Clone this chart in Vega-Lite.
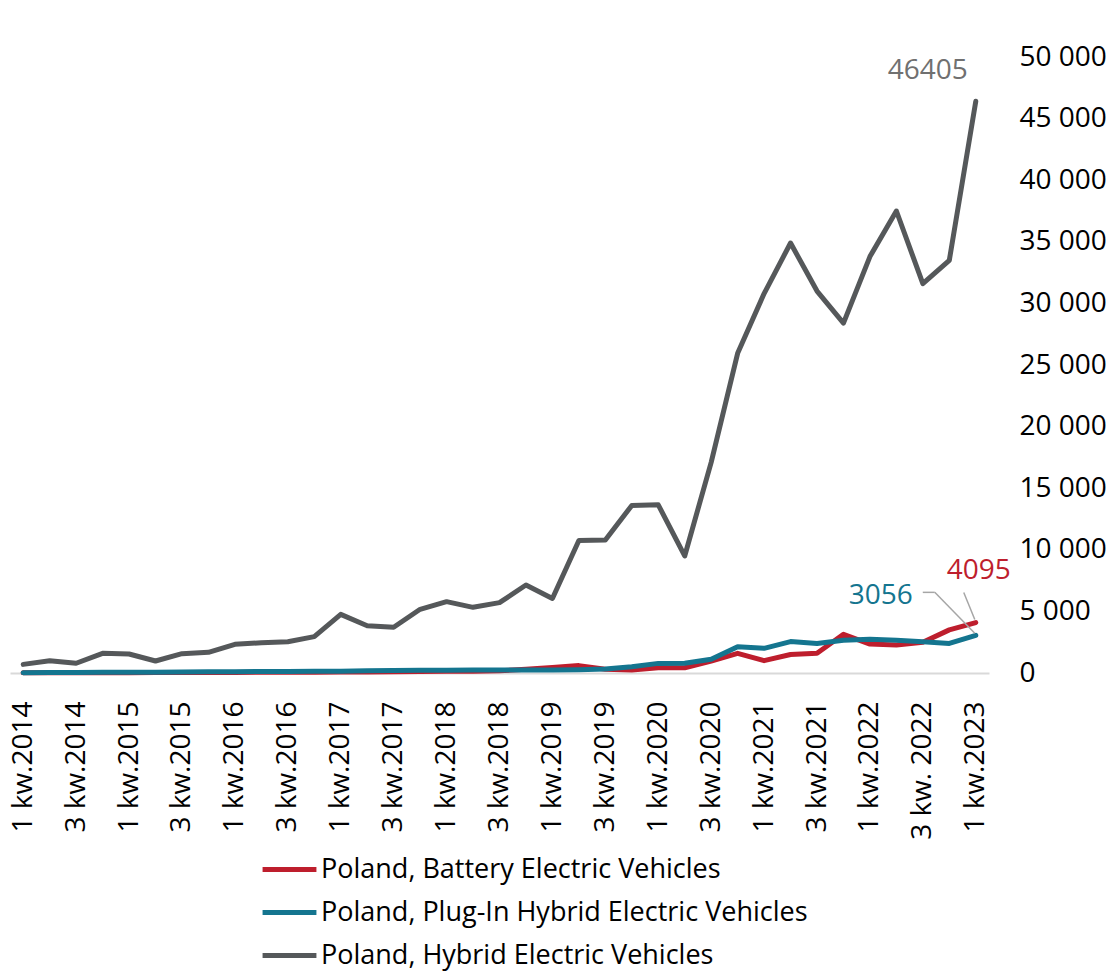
{
  "$schema": "https://vega.github.io/schema/vega-lite/v6.json",
  "autosize": {"type": "none"},
  "padding": {"left": 10, "top": 57, "right": 126, "bottom": 298},
  "width": 979,
  "height": 616,
  "background": "white",
  "config": {
    "view": {"stroke": null},
    "font": "Open Sans",
    "text": {"font": "Open Sans"}
  },
  "data": {
    "values": [
      {"quarter": "1 kw.2014", "Poland, Battery Electric Vehicles": 20, "Poland, Plug-In Hybrid Electric Vehicles": 30, "Poland, Hybrid Electric Vehicles": 700},
      {"quarter": "2 kw.2014", "Poland, Battery Electric Vehicles": 20, "Poland, Plug-In Hybrid Electric Vehicles": 40, "Poland, Hybrid Electric Vehicles": 1000},
      {"quarter": "3 kw.2014", "Poland, Battery Electric Vehicles": 30, "Poland, Plug-In Hybrid Electric Vehicles": 50, "Poland, Hybrid Electric Vehicles": 790},
      {"quarter": "4 kw.2014", "Poland, Battery Electric Vehicles": 30, "Poland, Plug-In Hybrid Electric Vehicles": 60, "Poland, Hybrid Electric Vehicles": 1600},
      {"quarter": "1 kw.2015", "Poland, Battery Electric Vehicles": 30, "Poland, Plug-In Hybrid Electric Vehicles": 60, "Poland, Hybrid Electric Vehicles": 1540},
      {"quarter": "2 kw.2015", "Poland, Battery Electric Vehicles": 40, "Poland, Plug-In Hybrid Electric Vehicles": 70, "Poland, Hybrid Electric Vehicles": 975},
      {"quarter": "3 kw.2015", "Poland, Battery Electric Vehicles": 40, "Poland, Plug-In Hybrid Electric Vehicles": 80, "Poland, Hybrid Electric Vehicles": 1570},
      {"quarter": "4 kw.2015", "Poland, Battery Electric Vehicles": 50, "Poland, Plug-In Hybrid Electric Vehicles": 100, "Poland, Hybrid Electric Vehicles": 1680},
      {"quarter": "1 kw.2016", "Poland, Battery Electric Vehicles": 50, "Poland, Plug-In Hybrid Electric Vehicles": 110, "Poland, Hybrid Electric Vehicles": 2330},
      {"quarter": "2 kw.2016", "Poland, Battery Electric Vehicles": 60, "Poland, Plug-In Hybrid Electric Vehicles": 120, "Poland, Hybrid Electric Vehicles": 2460},
      {"quarter": "3 kw.2016", "Poland, Battery Electric Vehicles": 60, "Poland, Plug-In Hybrid Electric Vehicles": 130, "Poland, Hybrid Electric Vehicles": 2540},
      {"quarter": "4 kw.2016", "Poland, Battery Electric Vehicles": 70, "Poland, Plug-In Hybrid Electric Vehicles": 140, "Poland, Hybrid Electric Vehicles": 2950},
      {"quarter": "1 kw.2017", "Poland, Battery Electric Vehicles": 80, "Poland, Plug-In Hybrid Electric Vehicles": 150, "Poland, Hybrid Electric Vehicles": 4760},
      {"quarter": "2 kw.2017", "Poland, Battery Electric Vehicles": 90, "Poland, Plug-In Hybrid Electric Vehicles": 180, "Poland, Hybrid Electric Vehicles": 3840},
      {"quarter": "3 kw.2017", "Poland, Battery Electric Vehicles": 100, "Poland, Plug-In Hybrid Electric Vehicles": 200, "Poland, Hybrid Electric Vehicles": 3710},
      {"quarter": "4 kw.2017", "Poland, Battery Electric Vehicles": 120, "Poland, Plug-In Hybrid Electric Vehicles": 220, "Poland, Hybrid Electric Vehicles": 5170},
      {"quarter": "1 kw.2018", "Poland, Battery Electric Vehicles": 140, "Poland, Plug-In Hybrid Electric Vehicles": 230, "Poland, Hybrid Electric Vehicles": 5790},
      {"quarter": "2 kw.2018", "Poland, Battery Electric Vehicles": 150, "Poland, Plug-In Hybrid Electric Vehicles": 240, "Poland, Hybrid Electric Vehicles": 5330},
      {"quarter": "3 kw.2018", "Poland, Battery Electric Vehicles": 180, "Poland, Plug-In Hybrid Electric Vehicles": 250, "Poland, Hybrid Electric Vehicles": 5710},
      {"quarter": "4 kw.2018", "Poland, Battery Electric Vehicles": 300, "Poland, Plug-In Hybrid Electric Vehicles": 250, "Poland, Hybrid Electric Vehicles": 7140},
      {"quarter": "1 kw.2019", "Poland, Battery Electric Vehicles": 450, "Poland, Plug-In Hybrid Electric Vehicles": 240, "Poland, Hybrid Electric Vehicles": 6050},
      {"quarter": "2 kw.2019", "Poland, Battery Electric Vehicles": 600, "Poland, Plug-In Hybrid Electric Vehicles": 260, "Poland, Hybrid Electric Vehicles": 10750},
      {"quarter": "3 kw.2019", "Poland, Battery Electric Vehicles": 300, "Poland, Plug-In Hybrid Electric Vehicles": 320, "Poland, Hybrid Electric Vehicles": 10800},
      {"quarter": "4 kw.2019", "Poland, Battery Electric Vehicles": 250, "Poland, Plug-In Hybrid Electric Vehicles": 510, "Poland, Hybrid Electric Vehicles": 13600},
      {"quarter": "1 kw.2020", "Poland, Battery Electric Vehicles": 430, "Poland, Plug-In Hybrid Electric Vehicles": 780, "Poland, Hybrid Electric Vehicles": 13650},
      {"quarter": "2 kw.2020", "Poland, Battery Electric Vehicles": 430, "Poland, Plug-In Hybrid Electric Vehicles": 790, "Poland, Hybrid Electric Vehicles": 9500},
      {"quarter": "3 kw.2020", "Poland, Battery Electric Vehicles": 975, "Poland, Plug-In Hybrid Electric Vehicles": 1110, "Poland, Hybrid Electric Vehicles": 17100},
      {"quarter": "4 kw.2020", "Poland, Battery Electric Vehicles": 1600, "Poland, Plug-In Hybrid Electric Vehicles": 2140, "Poland, Hybrid Electric Vehicles": 25950},
      {"quarter": "1 kw.2021", "Poland, Battery Electric Vehicles": 1000, "Poland, Plug-In Hybrid Electric Vehicles": 2000, "Poland, Hybrid Electric Vehicles": 30800},
      {"quarter": "2 kw.2021", "Poland, Battery Electric Vehicles": 1500, "Poland, Plug-In Hybrid Electric Vehicles": 2550, "Poland, Hybrid Electric Vehicles": 34900},
      {"quarter": "3 kw.2021", "Poland, Battery Electric Vehicles": 1600, "Poland, Plug-In Hybrid Electric Vehicles": 2400, "Poland, Hybrid Electric Vehicles": 31000},
      {"quarter": "4 kw.2021", "Poland, Battery Electric Vehicles": 3140, "Poland, Plug-In Hybrid Electric Vehicles": 2650, "Poland, Hybrid Electric Vehicles": 28400},
      {"quarter": "1 kw.2022", "Poland, Battery Electric Vehicles": 2350, "Poland, Plug-In Hybrid Electric Vehicles": 2730, "Poland, Hybrid Electric Vehicles": 33800},
      {"quarter": "2 kw.2022", "Poland, Battery Electric Vehicles": 2270, "Poland, Plug-In Hybrid Electric Vehicles": 2660, "Poland, Hybrid Electric Vehicles": 37500},
      {"quarter": "3 kw.2022", "Poland, Battery Electric Vehicles": 2500, "Poland, Plug-In Hybrid Electric Vehicles": 2540, "Poland, Hybrid Electric Vehicles": 31600},
      {"quarter": "4 kw.2022", "Poland, Battery Electric Vehicles": 3500, "Poland, Plug-In Hybrid Electric Vehicles": 2400, "Poland, Hybrid Electric Vehicles": 33500},
      {"quarter": "1 kw.2023", "Poland, Battery Electric Vehicles": 4095, "Poland, Plug-In Hybrid Electric Vehicles": 3056, "Poland, Hybrid Electric Vehicles": 46405}
    ]
  },
  "transform": [
    {"fold": ["Poland, Battery Electric Vehicles", "Poland, Plug-In Hybrid Electric Vehicles", "Poland, Hybrid Electric Vehicles"], "as": ["series", "value"]}
  ],
  "encoding": {
    "x": {
      "field": "quarter",
      "type": "ordinal",
      "sort": null,
      "scale": {"type": "point", "padding": 0.5},
      "axis": {
        "title": null,
        "values": ["1 kw.2014", "3 kw.2014", "1 kw.2015", "3 kw.2015", "1 kw.2016", "3 kw.2016", "1 kw.2017", "3 kw.2017", "1 kw.2018", "3 kw.2018", "1 kw.2019", "3 kw.2019", "1 kw.2020", "3 kw.2020", "1 kw.2021", "3 kw.2021", "1 kw.2022", "3 kw.2022", "1 kw.2023"],
        "labelExpr": "datum.label == '1 kw.2014' || datum.label == '1 kw.2019' ? replace(datum.label, ' ', '  ') : (datum.label == '3 kw.2022' ? '3 kw. 2022' : datum.label)",
        "labelAngle": 270,
        "labelAlign": "right",
        "labelBaseline": "middle",
        "labelPadding": 28,
        "labelFont": "Open Sans",
        "labelFontSize": 28,
        "labelColor": "#000000",
        "labelOverlap": false,
        "ticks": false,
        "grid": false,
        "domainColor": "#D9D9D9",
        "domainWidth": 2
      }
    },
    "y": {
      "field": "value",
      "type": "quantitative",
      "scale": {"domain": [0, 50000], "nice": false},
      "axis": {
        "orient": "right",
        "title": null,
        "values": [0, 5000, 10000, 15000, 20000, 25000, 30000, 35000, 40000, 45000, 50000],
        "labelExpr": "replace(format(datum.value, ','), ',', ' ')",
        "labelAlign": "left",
        "labelBaseline": "middle",
        "labelPadding": 30,
        "labelFont": "Open Sans",
        "labelFontSize": 28,
        "labelColor": "#000000",
        "labelFlush": false,
        "labelOverlap": false,
        "ticks": false,
        "domain": false,
        "grid": false
      }
    }
  },
  "layer": [
    {
      "mark": {"type": "line", "strokeWidth": 5, "strokeCap": "round", "strokeJoin": "round"},
      "encoding": {
        "color": {
          "field": "series",
          "type": "nominal",
          "scale": {
            "domain": ["Poland, Battery Electric Vehicles", "Poland, Plug-In Hybrid Electric Vehicles", "Poland, Hybrid Electric Vehicles"],
            "range": ["#BE1E2D", "#14758F", "#55585A"]
          },
          "legend": {
            "title": null,
            "orient": "none",
            "legendX": 250,
            "legendY": 783,
            "direction": "vertical",
            "symbolType": "stroke",
            "symbolSize": 2900,
            "symbolStrokeWidth": 5,
            "labelFont": "Open Sans",
            "labelFontSize": 27,
            "labelColor": "#000000",
            "labelOffset": 2,
            "labelLimit": 0,
            "rowPadding": -2
          }
        }
      }
    },
    {
      "transform": [{"filter": "datum.quarter == '1 kw.2023' && datum.series == 'Poland, Hybrid Electric Vehicles'"}],
      "mark": {"type": "text", "dx": -48, "dy": -30, "align": "center", "baseline": "middle", "fontSize": 28, "font": "Open Sans", "color": "#707070"},
      "encoding": {"text": {"field": "value", "type": "quantitative", "format": "d"}}
    },
    {
      "transform": [{"filter": "datum.quarter == '1 kw.2023' && datum.series == 'Poland, Battery Electric Vehicles'"}],
      "mark": {"type": "text", "dx": 3, "dy": -52, "align": "center", "baseline": "middle", "fontSize": 28, "font": "Open Sans", "color": "#BE1E2D"},
      "encoding": {"text": {"field": "value", "type": "quantitative", "format": "d"}}
    },
    {
      "transform": [{"filter": "datum.quarter == '1 kw.2023' && datum.series == 'Poland, Plug-In Hybrid Electric Vehicles'"}],
      "mark": {"type": "text", "dx": -95, "dy": -39, "align": "center", "baseline": "middle", "fontSize": 28, "font": "Open Sans", "color": "#14758F"},
      "encoding": {"text": {"field": "value", "type": "quantitative", "format": "d"}}
    },
    {
      "transform": [{"filter": "datum.quarter == '1 kw.2023' && datum.series == 'Poland, Battery Electric Vehicles'"}],
      "mark": {"type": "rule", "color": "#A6A6A6", "strokeWidth": 1.5, "xOffset": -12, "yOffset": -30, "x2Offset": -1, "y2Offset": -3},
      "encoding": {"x2": {"field": "quarter"}, "y2": {"field": "value"}}
    },
    {
      "transform": [{"filter": "datum.quarter == '1 kw.2023' && datum.series == 'Poland, Plug-In Hybrid Electric Vehicles'"}],
      "mark": {"type": "rule", "color": "#A6A6A6", "strokeWidth": 1.5, "xOffset": -41, "yOffset": -43, "x2Offset": -1, "y2Offset": -2},
      "encoding": {"x2": {"field": "quarter"}, "y2": {"field": "value"}}
    },
    {
      "transform": [{"filter": "datum.quarter == '1 kw.2023' && datum.series == 'Poland, Plug-In Hybrid Electric Vehicles'"}],
      "mark": {"type": "rule", "color": "#A6A6A6", "strokeWidth": 1.5, "xOffset": -53, "yOffset": -43, "x2Offset": -41, "y2Offset": -43},
      "encoding": {"x2": {"field": "quarter"}, "y2": {"field": "value"}}
    }
  ]
}
